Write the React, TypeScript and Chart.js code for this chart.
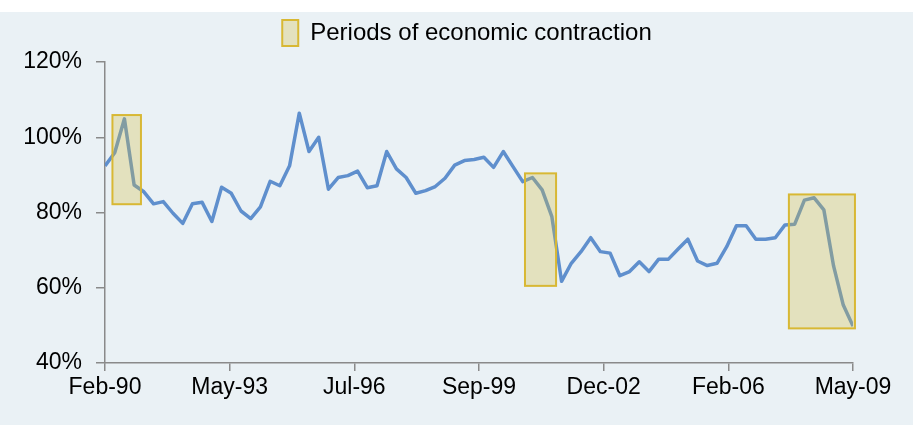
import React, { useEffect, useRef } from 'react';
import { Chart, registerables } from 'chart.js';

Chart.register(...registerables);

// Quarterly ratio values (%), Feb-90 .. May-09
const ratio = [
  92.4, 95.9, 104.9, 87.3, 85.5, 82.3, 82.9, 79.8, 77.1, 82.3,
  82.7, 77.6, 86.7, 85.1, 80.4, 78.4, 81.5, 88.3, 87.1, 92.4,
  106.4, 96.2, 100.0, 86.2, 89.3, 89.8, 91.0, 86.6, 87.1, 96.2,
  91.6, 89.3, 85.1, 85.8, 86.9, 89.1, 92.6, 93.8, 94.1, 94.7,
  92.0, 96.2, 92.2, 88.2, 89.3, 86.0, 78.9, 61.7, 66.5, 69.6,
  73.3, 69.6, 69.2, 63.2, 64.3, 66.9, 64.3, 67.6, 67.6, 70.3,
  72.9, 67.1, 65.9, 66.5, 70.9, 76.5, 76.5, 72.9, 72.9, 73.3,
  76.7, 76.9, 83.3, 83.9, 80.7, 65.8, 55.4, 49.8,
];

// Months elapsed since Feb-90 for each quarterly observation
const quarterMonths = ratio.map((_, i) => i * 3);

// X-axis tick labels and their positions (months since Feb-90)
const xTickLabels = ['Feb-90', 'May-93', 'Jul-96', 'Sep-99', 'Dec-02', 'Feb-06', 'May-09'];
const xTickMonths = [0, 38.5, 77, 115.5, 154, 192.5, 231];

// Y-axis ticks (%)
const yMin = 40;
const yMax = 120;
const yStep = 20;

// Periods of economic contraction (months since Feb-90, and % range of each box)
const contractionLabel = 'Periods of economic contraction';
const contractionStart = [2.3, 129.7, 211.2];
const contractionEnd = [11.1, 139.3, 231.6];
const contractionTop = [105.9, 90.4, 84.8];
const contractionBottom = [82.2, 60.5, 49.2];

const LINE_COLOR = '#5F8FCD';
const BOX_FILL = 'rgba(211,188,62,0.3)';
const BOX_BORDER = '#D8B834';
const BG = '#EAF1F5';
const AXIS = '#8A8A8A';
const FONT = "'Liberation Sans', Arial, sans-serif";

export default function App() {
  const ref = useRef<HTMLCanvasElement>(null);

  useEffect(() => {
    const canvas = ref.current;
    if (!canvas) return;

    const boxesPlugin = {
      id: 'contractionBoxes',
      afterDatasetsDraw(chart: any) {
        const { ctx } = chart;
        const xs = chart.scales.x;
        const ys = chart.scales.y;
        ctx.save();
        contractionStart.forEach((s, i) => {
          const x0 = xs.getPixelForValue(s);
          const x1 = xs.getPixelForValue(contractionEnd[i]);
          const y0 = ys.getPixelForValue(contractionTop[i]);
          const y1 = ys.getPixelForValue(contractionBottom[i]);
          ctx.fillStyle = BOX_FILL;
          ctx.fillRect(x0, y0, x1 - x0, y1 - y0);
          ctx.strokeStyle = BOX_BORDER;
          ctx.lineWidth = 2;
          ctx.strokeRect(x0, y0, x1 - x0, y1 - y0);
        });
        ctx.restore();
      },
    };

    const chart = new Chart(canvas, {
      type: 'line',
      data: {
        datasets: [
          {
            label: 'Ratio',
            data: ratio.map((v, i) => ({ x: quarterMonths[i], y: v })),
            borderColor: LINE_COLOR,
            backgroundColor: LINE_COLOR,
            borderWidth: 3.5,
            pointRadius: 0,
            tension: 0,
            borderJoinStyle: 'round',
            fill: false,
          },
          {
            label: contractionLabel,
            data: [],
            backgroundColor: BOX_FILL,
            borderColor: BOX_BORDER,
            borderWidth: 2,
          },
        ],
      },
      options: {
        animation: false,
        responsive: false,
        devicePixelRatio: 1,
        layout: { padding: { left: 21, right: 0, top: 0, bottom: 0 } },
        plugins: {
          tooltip: { enabled: false },
          legend: {
            display: true,
            position: 'top',
            align: 'center',
            labels: {
              filter: (item: any) => item.datasetIndex === 1,
              boxWidth: 16,
              boxHeight: 26,
              padding: 8,
              color: '#000',
              font: { family: FONT, size: 24 },
            },
          },
          // empty spacer between the legend and the plot
          subtitle: {
            display: true,
            text: '',
            position: 'top',
            weight: 500,
            padding: 0,
            font: { size: 6, lineHeight: 1 },
          },
        },
        scales: {
          x: {
            type: 'linear',
            min: 0,
            max: 231,
            afterBuildTicks: (s: any) => {
              s.ticks = xTickMonths.map((v) => ({ value: v }));
            },
            afterFit: (s: any) => {
              s.height = 62;
              s.paddingLeft = 0;
              s.paddingRight = 60;
            },
            ticks: {
              autoSkip: false,
              maxRotation: 0,
              padding: 3,
              color: '#000',
              font: { family: FONT, size: 23 },
              callback: (_v: any, i: number) => xTickLabels[i],
            },
            grid: {
              drawOnChartArea: false,
              drawTicks: true,
              tickLength: 8,
              color: AXIS,
              lineWidth: 1.5,
            },
            border: { display: true, color: AXIS, width: 1.5 },
          },
          y: {
            type: 'linear',
            min: yMin,
            max: yMax,
            afterFit: (s: any) => {
              s.width = 84;
            },
            ticks: {
              stepSize: yStep,
              padding: 14,
              color: '#000',
              font: { family: FONT, size: 23 },
              callback: (v: any) => v + '%',
            },
            grid: {
              drawOnChartArea: false,
              drawTicks: true,
              tickLength: 9,
              color: AXIS,
              lineWidth: 1.5,
            },
            border: { display: true, color: AXIS, width: 1.5 },
          },
        },
      },
      plugins: [boxesPlugin],
    });

    return () => chart.destroy();
  }, []);

  return (
    <div
      style={{
        position: 'fixed',
        left: 0,
        top: 0,
        width: 913,
        height: 425,
        background: '#fff',
        overflow: 'hidden',
      }}
    >
      <canvas
        ref={ref}
        width={913}
        height={413}
        style={{ position: 'absolute', left: 0, top: 12, width: 913, height: 413, background: BG }}
      />
    </div>
  );
}
